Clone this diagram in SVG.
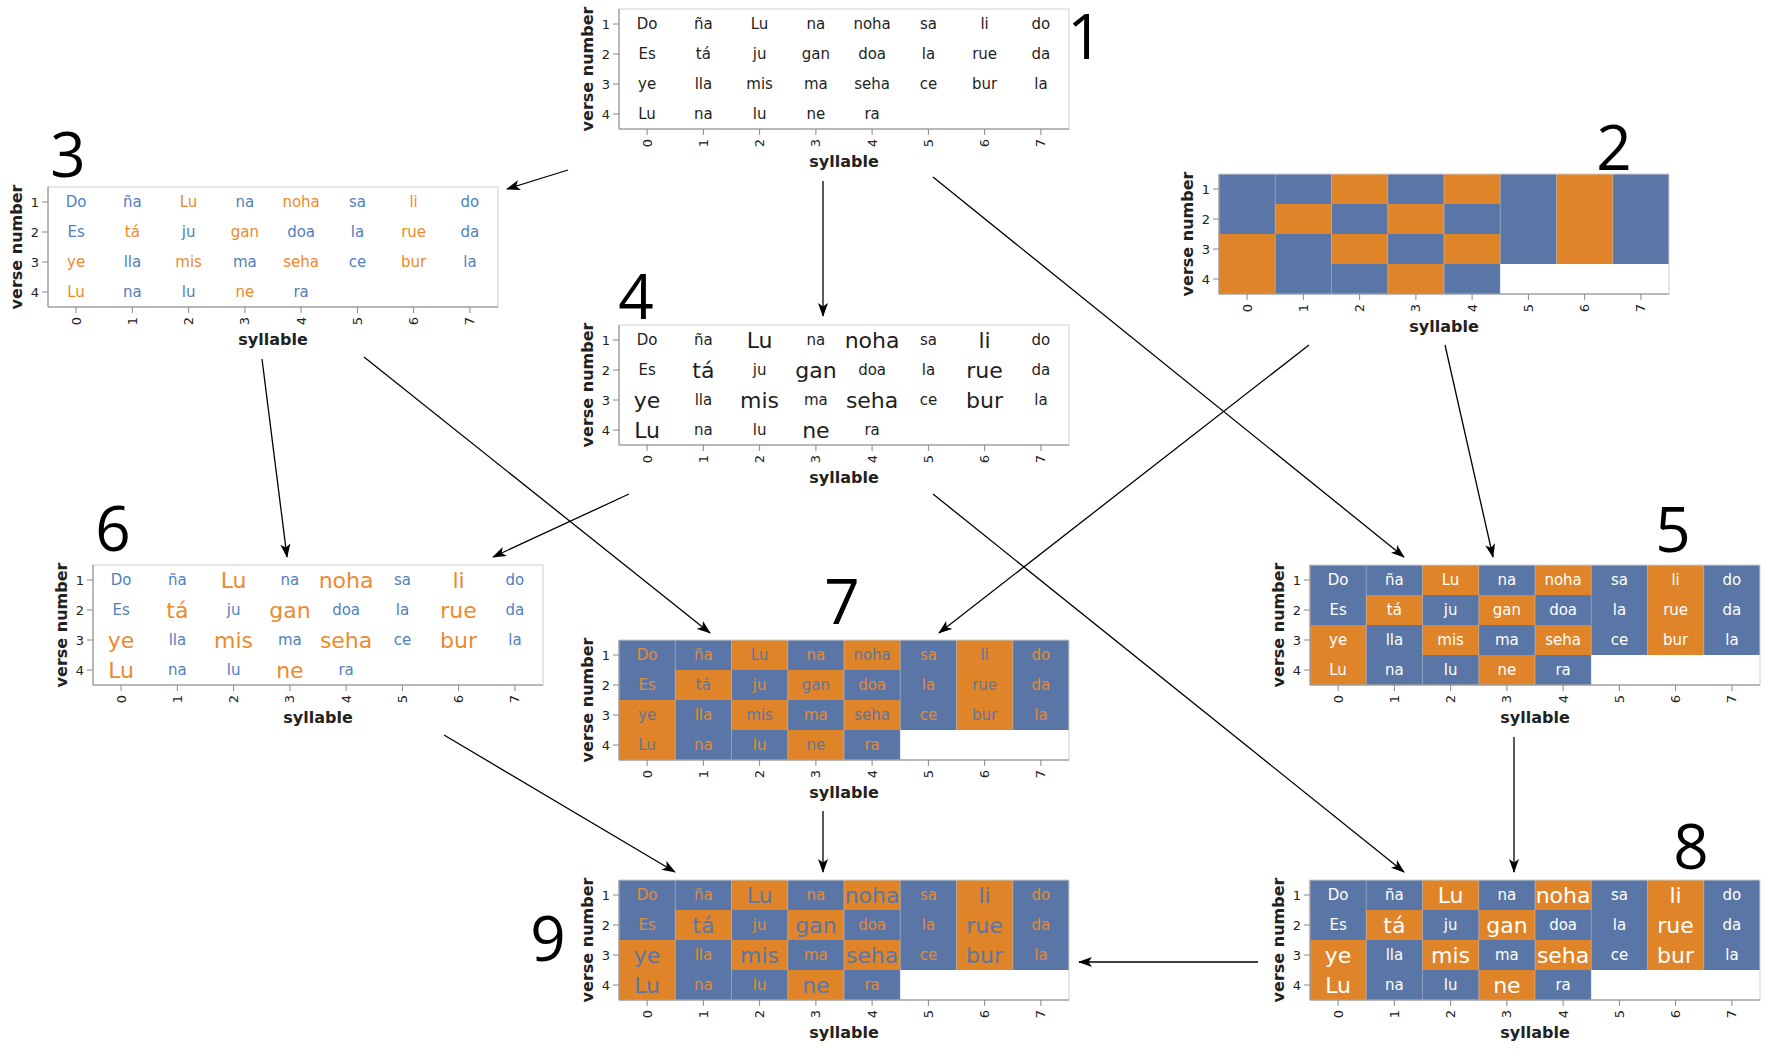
<svg xmlns="http://www.w3.org/2000/svg" xmlns:xlink="http://www.w3.org/1999/xlink" width="1772" height="1053" viewBox="0 0 1772 1053">
<style>
.cells text{font-family:"DejaVu Sans",Verdana,sans-serif;font-size:15px;text-anchor:middle;dominant-baseline:central}
.sized .cells .s{font-size:22px}
.sized .cells .u{font-size:15px}
.black .cells text{fill:#1e1e1e}
.colored .cells .s{fill:#ec8a2e}
.colored .cells .u{fill:#5080c0}
.white .cells text{fill:#ffffff}
.opp .cells .s{fill:#5a76a6}
.opp .cells .u{fill:#e48a30}
.ax text{font-family:"DejaVu Sans",Verdana,sans-serif;fill:#222}
.yl{font-size:13px;text-anchor:end;dominant-baseline:central}
.xl{font-size:13px;text-anchor:end;dominant-baseline:central}
.xt{font-size:16px;font-weight:bold;text-anchor:middle}
.yt{font-size:16px;font-weight:bold;text-anchor:middle}
.num{font-family:"Open Sans","Noto Sans",sans-serif;font-size:62px;fill:#000;text-anchor:middle}
.conn line{stroke:#000;stroke-width:1.3;fill:none;marker-end:url(#arr)}
</style>
<defs>
<marker id="arr" markerUnits="userSpaceOnUse" markerWidth="15" markerHeight="11" refX="13" refY="5.5" orient="auto">
<path d="M0,0.5 L14,5.5 L0,10.5 L3.5,5.5 Z" fill="#000"/>
</marker>
<g id="grid">
<rect x="0" y="0" width="450" height="90" fill="#5a76a6"/>
<rect x="0" y="90" width="281.25" height="30" fill="#5a76a6"/>
<g fill="#df8429">
<rect x="112.5" y="0" width="56.25" height="30"/>
<rect x="225" y="0" width="56.25" height="30"/>
<rect x="337.5" y="0" width="56.25" height="90"/>
<rect x="56.25" y="30" width="56.25" height="30"/>
<rect x="168.75" y="30" width="56.25" height="30"/>
<rect x="0" y="60" width="56.25" height="60"/>
<rect x="112.5" y="60" width="56.25" height="30"/>
<rect x="225" y="60" width="56.25" height="30"/>
<rect x="168.75" y="90" width="56.25" height="30"/>
</g>
<path d="M56.25,0V120M112.5,0V120M168.75,0V120M225,0V120M281.25,0V120M337.5,0V90M393.75,0V90" stroke="#ffffff" stroke-opacity="0.3" stroke-width="1"/>
</g>
<g id="axis">
<rect x="0" y="0" width="450" height="120" fill="none" stroke="#cfcfcf" stroke-width="1"/>
<path d="M0,0V120H450" fill="none" stroke="#888" stroke-width="1"/>
<path d="M-6,15H0M-6,45H0M-6,75H0M-6,105H0M28.1,120v6M84.4,120v6M140.6,120v6M196.9,120v6M253.1,120v6M309.4,120v6M365.6,120v6M421.9,120v6" stroke="#888" stroke-width="1"/>
</g>
</defs>
<rect width="1772" height="1053" fill="#ffffff"/>

<g id="connectors" class="conn">
<line x1="568" y1="170" x2="507" y2="189"/>
<line x1="823" y1="181" x2="823" y2="316"/>
<line x1="933" y1="177" x2="1404" y2="557"/>
<line x1="1445" y1="345" x2="1493" y2="557"/>
<line x1="1309" y1="345" x2="939" y2="633"/>
<line x1="262" y1="359" x2="287" y2="557"/>
<line x1="364" y1="357" x2="710" y2="633"/>
<line x1="629" y1="494" x2="493" y2="557"/>
<line x1="933" y1="494" x2="1404" y2="872"/>
<line x1="1514" y1="737" x2="1514" y2="872"/>
<line x1="444" y1="735" x2="675" y2="872"/>
<line x1="823" y1="811" x2="823" y2="872"/>
<line x1="1258" y1="962" x2="1079" y2="962"/>
</g>

<g id="chart1" class="black" transform="translate(619,9)">
<use href="#axis"/>
<g class="cells">
<text class="u" x="28.1" y="15">Do</text><text class="u" x="84.4" y="15">ña</text><text class="s" x="140.6" y="15">Lu</text><text class="u" x="196.9" y="15">na</text><text class="s" x="253.1" y="15">noha</text><text class="u" x="309.4" y="15">sa</text><text class="s" x="365.6" y="15">li</text><text class="u" x="421.9" y="15">do</text>
<text class="u" x="28.1" y="45">Es</text><text class="s" x="84.4" y="45">tá</text><text class="u" x="140.6" y="45">ju</text><text class="s" x="196.9" y="45">gan</text><text class="u" x="253.1" y="45">doa</text><text class="u" x="309.4" y="45">la</text><text class="s" x="365.6" y="45">rue</text><text class="u" x="421.9" y="45">da</text>
<text class="s" x="28.1" y="75">ye</text><text class="u" x="84.4" y="75">lla</text><text class="s" x="140.6" y="75">mis</text><text class="u" x="196.9" y="75">ma</text><text class="s" x="253.1" y="75">seha</text><text class="u" x="309.4" y="75">ce</text><text class="s" x="365.6" y="75">bur</text><text class="u" x="421.9" y="75">la</text>
<text class="s" x="28.1" y="105">Lu</text><text class="u" x="84.4" y="105">na</text><text class="u" x="140.6" y="105">lu</text><text class="s" x="196.9" y="105">ne</text><text class="u" x="253.1" y="105">ra</text>
</g>
<g class="ax">
<text class="yl" x="-9" y="15">1</text><text class="yl" x="-9" y="45">2</text><text class="yl" x="-9" y="75">3</text><text class="yl" x="-9" y="105">4</text>
<text class="xl" transform="translate(28.1,130) rotate(-90)">0</text><text class="xl" transform="translate(84.4,130) rotate(-90)">1</text><text class="xl" transform="translate(140.6,130) rotate(-90)">2</text><text class="xl" transform="translate(196.9,130) rotate(-90)">3</text><text class="xl" transform="translate(253.1,130) rotate(-90)">4</text><text class="xl" transform="translate(309.4,130) rotate(-90)">5</text><text class="xl" transform="translate(365.6,130) rotate(-90)">6</text><text class="xl" transform="translate(421.9,130) rotate(-90)">7</text>
<text class="xt" x="225" y="158">syllable</text>
<text class="yt" transform="translate(-26,60) rotate(-90)">verse number</text>
</g>
<text class="num" x="466" y="50">1</text>
</g>

<g id="chart2" transform="translate(1219,174)">
<use href="#grid"/>
<use href="#axis"/>
<g class="ax">
<text class="yl" x="-9" y="15">1</text><text class="yl" x="-9" y="45">2</text><text class="yl" x="-9" y="75">3</text><text class="yl" x="-9" y="105">4</text>
<text class="xl" transform="translate(28.1,130) rotate(-90)">0</text><text class="xl" transform="translate(84.4,130) rotate(-90)">1</text><text class="xl" transform="translate(140.6,130) rotate(-90)">2</text><text class="xl" transform="translate(196.9,130) rotate(-90)">3</text><text class="xl" transform="translate(253.1,130) rotate(-90)">4</text><text class="xl" transform="translate(309.4,130) rotate(-90)">5</text><text class="xl" transform="translate(365.6,130) rotate(-90)">6</text><text class="xl" transform="translate(421.9,130) rotate(-90)">7</text>
<text class="xt" x="225" y="158">syllable</text>
<text class="yt" transform="translate(-26,60) rotate(-90)">verse number</text>
</g>
<text class="num" x="395" y="-4">2</text>
</g>

<g id="chart3" class="colored" transform="translate(48,187)">
<use href="#axis"/>
<g class="cells">
<text class="u" x="28.1" y="15">Do</text><text class="u" x="84.4" y="15">ña</text><text class="s" x="140.6" y="15">Lu</text><text class="u" x="196.9" y="15">na</text><text class="s" x="253.1" y="15">noha</text><text class="u" x="309.4" y="15">sa</text><text class="s" x="365.6" y="15">li</text><text class="u" x="421.9" y="15">do</text>
<text class="u" x="28.1" y="45">Es</text><text class="s" x="84.4" y="45">tá</text><text class="u" x="140.6" y="45">ju</text><text class="s" x="196.9" y="45">gan</text><text class="u" x="253.1" y="45">doa</text><text class="u" x="309.4" y="45">la</text><text class="s" x="365.6" y="45">rue</text><text class="u" x="421.9" y="45">da</text>
<text class="s" x="28.1" y="75">ye</text><text class="u" x="84.4" y="75">lla</text><text class="s" x="140.6" y="75">mis</text><text class="u" x="196.9" y="75">ma</text><text class="s" x="253.1" y="75">seha</text><text class="u" x="309.4" y="75">ce</text><text class="s" x="365.6" y="75">bur</text><text class="u" x="421.9" y="75">la</text>
<text class="s" x="28.1" y="105">Lu</text><text class="u" x="84.4" y="105">na</text><text class="u" x="140.6" y="105">lu</text><text class="s" x="196.9" y="105">ne</text><text class="u" x="253.1" y="105">ra</text>
</g>
<g class="ax">
<text class="yl" x="-9" y="15">1</text><text class="yl" x="-9" y="45">2</text><text class="yl" x="-9" y="75">3</text><text class="yl" x="-9" y="105">4</text>
<text class="xl" transform="translate(28.1,130) rotate(-90)">0</text><text class="xl" transform="translate(84.4,130) rotate(-90)">1</text><text class="xl" transform="translate(140.6,130) rotate(-90)">2</text><text class="xl" transform="translate(196.9,130) rotate(-90)">3</text><text class="xl" transform="translate(253.1,130) rotate(-90)">4</text><text class="xl" transform="translate(309.4,130) rotate(-90)">5</text><text class="xl" transform="translate(365.6,130) rotate(-90)">6</text><text class="xl" transform="translate(421.9,130) rotate(-90)">7</text>
<text class="xt" x="225" y="158">syllable</text>
<text class="yt" transform="translate(-26,60) rotate(-90)">verse number</text>
</g>
<text class="num" x="20" y="-10">3</text>
</g>

<g id="chart4" class="black sized" transform="translate(619,325)">
<use href="#axis"/>
<g class="cells">
<text class="u" x="28.1" y="15">Do</text><text class="u" x="84.4" y="15">ña</text><text class="s" x="140.6" y="15">Lu</text><text class="u" x="196.9" y="15">na</text><text class="s" x="253.1" y="15">noha</text><text class="u" x="309.4" y="15">sa</text><text class="s" x="365.6" y="15">li</text><text class="u" x="421.9" y="15">do</text>
<text class="u" x="28.1" y="45">Es</text><text class="s" x="84.4" y="45">tá</text><text class="u" x="140.6" y="45">ju</text><text class="s" x="196.9" y="45">gan</text><text class="u" x="253.1" y="45">doa</text><text class="u" x="309.4" y="45">la</text><text class="s" x="365.6" y="45">rue</text><text class="u" x="421.9" y="45">da</text>
<text class="s" x="28.1" y="75">ye</text><text class="u" x="84.4" y="75">lla</text><text class="s" x="140.6" y="75">mis</text><text class="u" x="196.9" y="75">ma</text><text class="s" x="253.1" y="75">seha</text><text class="u" x="309.4" y="75">ce</text><text class="s" x="365.6" y="75">bur</text><text class="u" x="421.9" y="75">la</text>
<text class="s" x="28.1" y="105">Lu</text><text class="u" x="84.4" y="105">na</text><text class="u" x="140.6" y="105">lu</text><text class="s" x="196.9" y="105">ne</text><text class="u" x="253.1" y="105">ra</text>
</g>
<g class="ax">
<text class="yl" x="-9" y="15">1</text><text class="yl" x="-9" y="45">2</text><text class="yl" x="-9" y="75">3</text><text class="yl" x="-9" y="105">4</text>
<text class="xl" transform="translate(28.1,130) rotate(-90)">0</text><text class="xl" transform="translate(84.4,130) rotate(-90)">1</text><text class="xl" transform="translate(140.6,130) rotate(-90)">2</text><text class="xl" transform="translate(196.9,130) rotate(-90)">3</text><text class="xl" transform="translate(253.1,130) rotate(-90)">4</text><text class="xl" transform="translate(309.4,130) rotate(-90)">5</text><text class="xl" transform="translate(365.6,130) rotate(-90)">6</text><text class="xl" transform="translate(421.9,130) rotate(-90)">7</text>
<text class="xt" x="225" y="158">syllable</text>
<text class="yt" transform="translate(-26,60) rotate(-90)">verse number</text>
</g>
<text class="num" x="17" y="-6">4</text>
</g>

<g id="chart5" class="white" transform="translate(1310,565)">
<use href="#grid"/>
<use href="#axis"/>
<g class="cells">
<text class="u" x="28.1" y="15">Do</text><text class="u" x="84.4" y="15">ña</text><text class="s" x="140.6" y="15">Lu</text><text class="u" x="196.9" y="15">na</text><text class="s" x="253.1" y="15">noha</text><text class="u" x="309.4" y="15">sa</text><text class="s" x="365.6" y="15">li</text><text class="u" x="421.9" y="15">do</text>
<text class="u" x="28.1" y="45">Es</text><text class="s" x="84.4" y="45">tá</text><text class="u" x="140.6" y="45">ju</text><text class="s" x="196.9" y="45">gan</text><text class="u" x="253.1" y="45">doa</text><text class="u" x="309.4" y="45">la</text><text class="s" x="365.6" y="45">rue</text><text class="u" x="421.9" y="45">da</text>
<text class="s" x="28.1" y="75">ye</text><text class="u" x="84.4" y="75">lla</text><text class="s" x="140.6" y="75">mis</text><text class="u" x="196.9" y="75">ma</text><text class="s" x="253.1" y="75">seha</text><text class="u" x="309.4" y="75">ce</text><text class="s" x="365.6" y="75">bur</text><text class="u" x="421.9" y="75">la</text>
<text class="s" x="28.1" y="105">Lu</text><text class="u" x="84.4" y="105">na</text><text class="u" x="140.6" y="105">lu</text><text class="s" x="196.9" y="105">ne</text><text class="u" x="253.1" y="105">ra</text>
</g>
<g class="ax">
<text class="yl" x="-9" y="15">1</text><text class="yl" x="-9" y="45">2</text><text class="yl" x="-9" y="75">3</text><text class="yl" x="-9" y="105">4</text>
<text class="xl" transform="translate(28.1,130) rotate(-90)">0</text><text class="xl" transform="translate(84.4,130) rotate(-90)">1</text><text class="xl" transform="translate(140.6,130) rotate(-90)">2</text><text class="xl" transform="translate(196.9,130) rotate(-90)">3</text><text class="xl" transform="translate(253.1,130) rotate(-90)">4</text><text class="xl" transform="translate(309.4,130) rotate(-90)">5</text><text class="xl" transform="translate(365.6,130) rotate(-90)">6</text><text class="xl" transform="translate(421.9,130) rotate(-90)">7</text>
<text class="xt" x="225" y="158">syllable</text>
<text class="yt" transform="translate(-26,60) rotate(-90)">verse number</text>
</g>
<text class="num" x="363" y="-13">5</text>
</g>

<g id="chart6" class="colored sized" transform="translate(93,565)">
<use href="#axis"/>
<g class="cells">
<text class="u" x="28.1" y="15">Do</text><text class="u" x="84.4" y="15">ña</text><text class="s" x="140.6" y="15">Lu</text><text class="u" x="196.9" y="15">na</text><text class="s" x="253.1" y="15">noha</text><text class="u" x="309.4" y="15">sa</text><text class="s" x="365.6" y="15">li</text><text class="u" x="421.9" y="15">do</text>
<text class="u" x="28.1" y="45">Es</text><text class="s" x="84.4" y="45">tá</text><text class="u" x="140.6" y="45">ju</text><text class="s" x="196.9" y="45">gan</text><text class="u" x="253.1" y="45">doa</text><text class="u" x="309.4" y="45">la</text><text class="s" x="365.6" y="45">rue</text><text class="u" x="421.9" y="45">da</text>
<text class="s" x="28.1" y="75">ye</text><text class="u" x="84.4" y="75">lla</text><text class="s" x="140.6" y="75">mis</text><text class="u" x="196.9" y="75">ma</text><text class="s" x="253.1" y="75">seha</text><text class="u" x="309.4" y="75">ce</text><text class="s" x="365.6" y="75">bur</text><text class="u" x="421.9" y="75">la</text>
<text class="s" x="28.1" y="105">Lu</text><text class="u" x="84.4" y="105">na</text><text class="u" x="140.6" y="105">lu</text><text class="s" x="196.9" y="105">ne</text><text class="u" x="253.1" y="105">ra</text>
</g>
<g class="ax">
<text class="yl" x="-9" y="15">1</text><text class="yl" x="-9" y="45">2</text><text class="yl" x="-9" y="75">3</text><text class="yl" x="-9" y="105">4</text>
<text class="xl" transform="translate(28.1,130) rotate(-90)">0</text><text class="xl" transform="translate(84.4,130) rotate(-90)">1</text><text class="xl" transform="translate(140.6,130) rotate(-90)">2</text><text class="xl" transform="translate(196.9,130) rotate(-90)">3</text><text class="xl" transform="translate(253.1,130) rotate(-90)">4</text><text class="xl" transform="translate(309.4,130) rotate(-90)">5</text><text class="xl" transform="translate(365.6,130) rotate(-90)">6</text><text class="xl" transform="translate(421.9,130) rotate(-90)">7</text>
<text class="xt" x="225" y="158">syllable</text>
<text class="yt" transform="translate(-26,60) rotate(-90)">verse number</text>
</g>
<text class="num" x="20" y="-14">6</text>
</g>

<g id="chart7" class="opp" transform="translate(619,640)">
<use href="#grid"/>
<use href="#axis"/>
<g class="cells">
<text class="u" x="28.1" y="15">Do</text><text class="u" x="84.4" y="15">ña</text><text class="s" x="140.6" y="15">Lu</text><text class="u" x="196.9" y="15">na</text><text class="s" x="253.1" y="15">noha</text><text class="u" x="309.4" y="15">sa</text><text class="s" x="365.6" y="15">li</text><text class="u" x="421.9" y="15">do</text>
<text class="u" x="28.1" y="45">Es</text><text class="s" x="84.4" y="45">tá</text><text class="u" x="140.6" y="45">ju</text><text class="s" x="196.9" y="45">gan</text><text class="u" x="253.1" y="45">doa</text><text class="u" x="309.4" y="45">la</text><text class="s" x="365.6" y="45">rue</text><text class="u" x="421.9" y="45">da</text>
<text class="s" x="28.1" y="75">ye</text><text class="u" x="84.4" y="75">lla</text><text class="s" x="140.6" y="75">mis</text><text class="u" x="196.9" y="75">ma</text><text class="s" x="253.1" y="75">seha</text><text class="u" x="309.4" y="75">ce</text><text class="s" x="365.6" y="75">bur</text><text class="u" x="421.9" y="75">la</text>
<text class="s" x="28.1" y="105">Lu</text><text class="u" x="84.4" y="105">na</text><text class="u" x="140.6" y="105">lu</text><text class="s" x="196.9" y="105">ne</text><text class="u" x="253.1" y="105">ra</text>
</g>
<g class="ax">
<text class="yl" x="-9" y="15">1</text><text class="yl" x="-9" y="45">2</text><text class="yl" x="-9" y="75">3</text><text class="yl" x="-9" y="105">4</text>
<text class="xl" transform="translate(28.1,130) rotate(-90)">0</text><text class="xl" transform="translate(84.4,130) rotate(-90)">1</text><text class="xl" transform="translate(140.6,130) rotate(-90)">2</text><text class="xl" transform="translate(196.9,130) rotate(-90)">3</text><text class="xl" transform="translate(253.1,130) rotate(-90)">4</text><text class="xl" transform="translate(309.4,130) rotate(-90)">5</text><text class="xl" transform="translate(365.6,130) rotate(-90)">6</text><text class="xl" transform="translate(421.9,130) rotate(-90)">7</text>
<text class="xt" x="225" y="158">syllable</text>
<text class="yt" transform="translate(-26,60) rotate(-90)">verse number</text>
</g>
<text class="num" x="223" y="-16">7</text>
</g>

<g id="chart8" class="white sized" transform="translate(1310,880)">
<use href="#grid"/>
<use href="#axis"/>
<g class="cells">
<text class="u" x="28.1" y="15">Do</text><text class="u" x="84.4" y="15">ña</text><text class="s" x="140.6" y="15">Lu</text><text class="u" x="196.9" y="15">na</text><text class="s" x="253.1" y="15">noha</text><text class="u" x="309.4" y="15">sa</text><text class="s" x="365.6" y="15">li</text><text class="u" x="421.9" y="15">do</text>
<text class="u" x="28.1" y="45">Es</text><text class="s" x="84.4" y="45">tá</text><text class="u" x="140.6" y="45">ju</text><text class="s" x="196.9" y="45">gan</text><text class="u" x="253.1" y="45">doa</text><text class="u" x="309.4" y="45">la</text><text class="s" x="365.6" y="45">rue</text><text class="u" x="421.9" y="45">da</text>
<text class="s" x="28.1" y="75">ye</text><text class="u" x="84.4" y="75">lla</text><text class="s" x="140.6" y="75">mis</text><text class="u" x="196.9" y="75">ma</text><text class="s" x="253.1" y="75">seha</text><text class="u" x="309.4" y="75">ce</text><text class="s" x="365.6" y="75">bur</text><text class="u" x="421.9" y="75">la</text>
<text class="s" x="28.1" y="105">Lu</text><text class="u" x="84.4" y="105">na</text><text class="u" x="140.6" y="105">lu</text><text class="s" x="196.9" y="105">ne</text><text class="u" x="253.1" y="105">ra</text>
</g>
<g class="ax">
<text class="yl" x="-9" y="15">1</text><text class="yl" x="-9" y="45">2</text><text class="yl" x="-9" y="75">3</text><text class="yl" x="-9" y="105">4</text>
<text class="xl" transform="translate(28.1,130) rotate(-90)">0</text><text class="xl" transform="translate(84.4,130) rotate(-90)">1</text><text class="xl" transform="translate(140.6,130) rotate(-90)">2</text><text class="xl" transform="translate(196.9,130) rotate(-90)">3</text><text class="xl" transform="translate(253.1,130) rotate(-90)">4</text><text class="xl" transform="translate(309.4,130) rotate(-90)">5</text><text class="xl" transform="translate(365.6,130) rotate(-90)">6</text><text class="xl" transform="translate(421.9,130) rotate(-90)">7</text>
<text class="xt" x="225" y="158">syllable</text>
<text class="yt" transform="translate(-26,60) rotate(-90)">verse number</text>
</g>
<text class="num" x="381" y="-11">8</text>
</g>

<g id="chart9" class="opp sized" transform="translate(619,880)">
<use href="#grid"/>
<use href="#axis"/>
<g class="cells">
<text class="u" x="28.1" y="15">Do</text><text class="u" x="84.4" y="15">ña</text><text class="s" x="140.6" y="15">Lu</text><text class="u" x="196.9" y="15">na</text><text class="s" x="253.1" y="15">noha</text><text class="u" x="309.4" y="15">sa</text><text class="s" x="365.6" y="15">li</text><text class="u" x="421.9" y="15">do</text>
<text class="u" x="28.1" y="45">Es</text><text class="s" x="84.4" y="45">tá</text><text class="u" x="140.6" y="45">ju</text><text class="s" x="196.9" y="45">gan</text><text class="u" x="253.1" y="45">doa</text><text class="u" x="309.4" y="45">la</text><text class="s" x="365.6" y="45">rue</text><text class="u" x="421.9" y="45">da</text>
<text class="s" x="28.1" y="75">ye</text><text class="u" x="84.4" y="75">lla</text><text class="s" x="140.6" y="75">mis</text><text class="u" x="196.9" y="75">ma</text><text class="s" x="253.1" y="75">seha</text><text class="u" x="309.4" y="75">ce</text><text class="s" x="365.6" y="75">bur</text><text class="u" x="421.9" y="75">la</text>
<text class="s" x="28.1" y="105">Lu</text><text class="u" x="84.4" y="105">na</text><text class="u" x="140.6" y="105">lu</text><text class="s" x="196.9" y="105">ne</text><text class="u" x="253.1" y="105">ra</text>
</g>
<g class="ax">
<text class="yl" x="-9" y="15">1</text><text class="yl" x="-9" y="45">2</text><text class="yl" x="-9" y="75">3</text><text class="yl" x="-9" y="105">4</text>
<text class="xl" transform="translate(28.1,130) rotate(-90)">0</text><text class="xl" transform="translate(84.4,130) rotate(-90)">1</text><text class="xl" transform="translate(140.6,130) rotate(-90)">2</text><text class="xl" transform="translate(196.9,130) rotate(-90)">3</text><text class="xl" transform="translate(253.1,130) rotate(-90)">4</text><text class="xl" transform="translate(309.4,130) rotate(-90)">5</text><text class="xl" transform="translate(365.6,130) rotate(-90)">6</text><text class="xl" transform="translate(421.9,130) rotate(-90)">7</text>
<text class="xt" x="225" y="158">syllable</text>
<text class="yt" transform="translate(-26,60) rotate(-90)">verse number</text>
</g>
<text class="num" x="-71" y="81">9</text>
</g>
</svg>
